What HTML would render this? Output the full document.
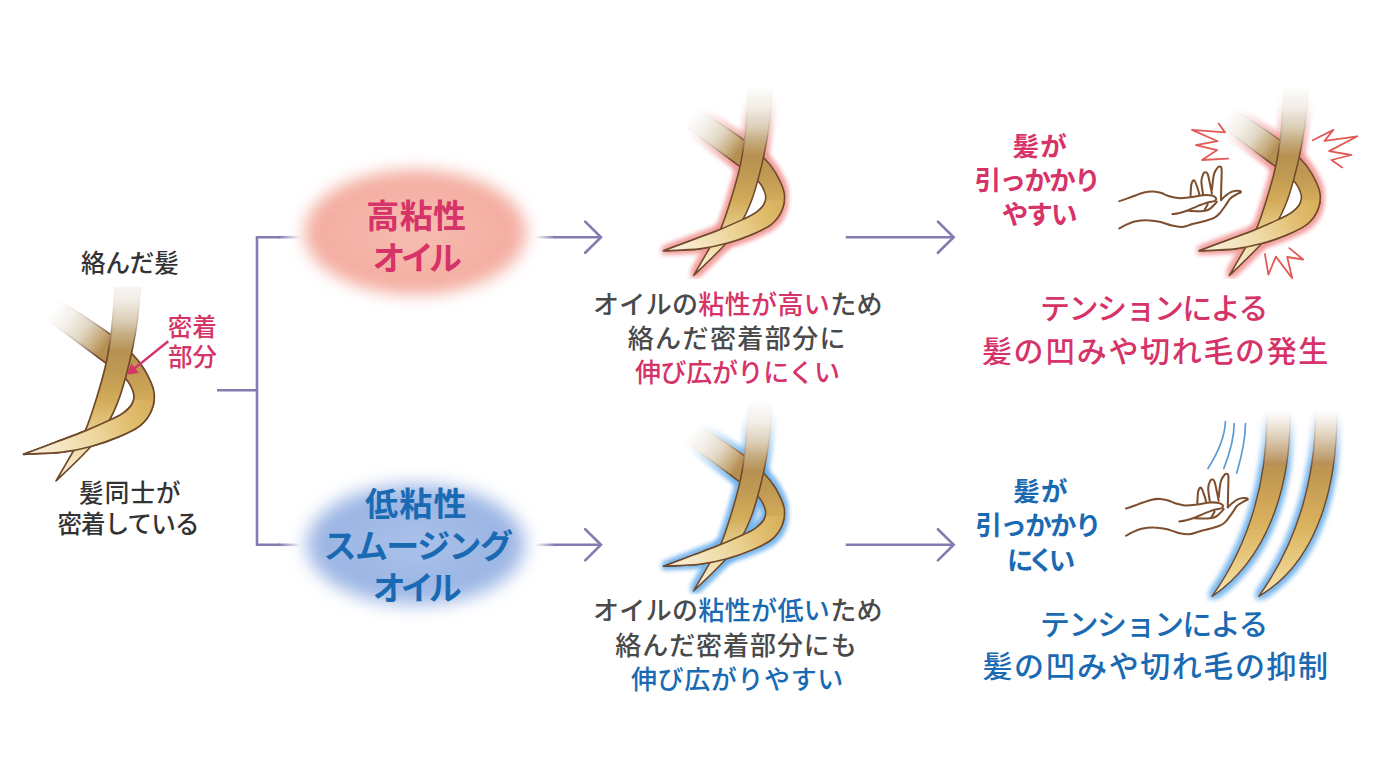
<!DOCTYPE html>
<html lang="ja"><head><meta charset="utf-8"><title>Hair oil viscosity diagram</title>
<style>
html,body{margin:0;padding:0;background:#fff}
#stage{position:relative;width:1380px;height:776px;overflow:hidden;background:#fff;font-family:"Liberation Sans",sans-serif}
#stage svg{position:absolute;left:0;top:0;display:block}
.t{position:absolute;color:transparent;white-space:nowrap;overflow:hidden;text-align:center;margin:0}
</style></head><body>
<div id="stage">
<svg width="1380" height="776" viewBox="0 0 1380 776" role="img" aria-label="Hair oil viscosity comparison diagram">
<defs>
<linearGradient id="hg" gradientUnits="userSpaceOnUse" x1="0" y1="286" x2="0" y2="481">
<stop offset="0" stop-color="#b79a72"/><stop offset="0.33" stop-color="#b89152"/><stop offset="0.44" stop-color="#bf9953"/><stop offset="0.585" stop-color="#d3ab59"/><stop offset="0.78" stop-color="#ecd08a"/><stop offset="1" stop-color="#f7e6bf"/>
</linearGradient>
<linearGradient id="hgA" gradientUnits="userSpaceOnUse" x1="0" y1="276" x2="0" y2="481">
<stop offset="0.000" stop-color="#fff"/><stop offset="0.117" stop-color="#f1ece4"/><stop offset="0.215" stop-color="#dccfb8"/><stop offset="0.288" stop-color="#c5ac80"/><stop offset="0.366" stop-color="#b89152"/><stop offset="0.468" stop-color="#bf9953"/><stop offset="0.605" stop-color="#d3ab59"/><stop offset="0.790" stop-color="#ecd598"/><stop offset="1.000" stop-color="#fbf3e2"/>
</linearGradient>
<linearGradient id="stA" gradientUnits="userSpaceOnUse" x1="0" y1="276" x2="0" y2="481">
<stop offset="0.000" stop-color="#fff"/><stop offset="0.117" stop-color="#efe9e1"/><stop offset="0.239" stop-color="#c4b3a0"/><stop offset="0.361" stop-color="#70492a"/><stop offset="1.000" stop-color="#70492a"/>
</linearGradient>
<linearGradient id="hgB" gradientUnits="userSpaceOnUse" x1="53" y1="309" x2="104" y2="347">
<stop offset="0" stop-color="#fff"/><stop offset="0.3" stop-color="#f4f0ea"/><stop offset="0.6" stop-color="#e1d6c2"/><stop offset="0.85" stop-color="#c8ad80"/><stop offset="1" stop-color="#b58f52"/>
</linearGradient>
<linearGradient id="stB" gradientUnits="userSpaceOnUse" x1="53" y1="309" x2="104" y2="347">
<stop offset="0" stop-color="#fff"/><stop offset="0.3" stop-color="#efe9e1"/><stop offset="0.65" stop-color="#c4b3a0"/><stop offset="1" stop-color="#70492a"/>
</linearGradient>
<clipPath id="clipBtop"><rect x="0" y="255" width="112" height="115"/></clipPath><clipPath id="clipBrest"><rect x="112" y="255" width="100" height="120"/><rect x="0" y="370" width="200" height="130"/></clipPath><clipPath id="clipLeft"><rect x="0" y="286.6" width="240" height="220"/></clipPath>
<linearGradient id="hgBt" gradientUnits="userSpaceOnUse" x1="152" y1="398" x2="25" y2="455">
<stop offset="0" stop-color="#d7af5c"/><stop offset="0.2" stop-color="#e0bc6c"/><stop offset="0.45" stop-color="#ecd498"/><stop offset="0.75" stop-color="#f5e6c4"/><stop offset="1" stop-color="#fbf3e4"/>
</linearGradient>
<linearGradient id="hg2" gradientUnits="userSpaceOnUse" x1="0" y1="412" x2="0" y2="597">
<stop offset="0" stop-color="#b79a72"/><stop offset="0.28" stop-color="#b1874c"/><stop offset="0.30" stop-color="#bd9450"/><stop offset="0.6" stop-color="#d9b15d"/><stop offset="0.85" stop-color="#ecd08a"/><stop offset="1" stop-color="#f7e6bf"/>
</linearGradient>
<linearGradient id="mAg" gradientUnits="userSpaceOnUse" x1="0" y1="284" x2="0" y2="352">
<stop offset="0" stop-color="#000"/><stop offset="0.12" stop-color="#101010"/><stop offset="1" stop-color="#fff"/>
</linearGradient>
<mask id="mA" maskUnits="userSpaceOnUse" x="0" y="255" width="200" height="230"><rect x="0" y="255" width="200" height="245" fill="url(#mAg)"/></mask>
<linearGradient id="mBg" gradientUnits="userSpaceOnUse" x1="57" y1="312" x2="106" y2="348.5">
<stop offset="0" stop-color="#000"/><stop offset="0.12" stop-color="#101010"/><stop offset="1" stop-color="#fff"/>
</linearGradient>
<mask id="mB" maskUnits="userSpaceOnUse" x="0" y="255" width="200" height="230"><rect x="0" y="255" width="200" height="245" fill="url(#mBg)"/></mask>
<clipPath id="clipBot"><rect x="0" y="400" width="200" height="100"/></clipPath>
<linearGradient id="fadeRg" gradientUnits="userSpaceOnUse" x1="0" y1="410" x2="0" y2="468">
<stop offset="0" stop-color="#000"/><stop offset="0.1" stop-color="#111"/><stop offset="1" stop-color="#fff"/>
</linearGradient>
<mask id="fadeR" maskUnits="userSpaceOnUse" x="1180" y="400" width="200" height="220"><rect x="1180" y="400" width="200" height="220" fill="url(#fadeRg)"/></mask>
<filter id="glowP" x="-30%" y="-30%" width="160%" height="160%" color-interpolation-filters="sRGB">
<feMorphology in="SourceAlpha" operator="dilate" radius="4.6" result="d"/><feGaussianBlur in="d" stdDeviation="2.3" result="b"/>
<feFlood flood-color="#f19796"/><feComposite in2="b" operator="in" result="c"/>
<feComponentTransfer in="c" result="c2"><feFuncA type="linear" slope="0.92"/></feComponentTransfer>
</filter>
<filter id="glowB" x="-30%" y="-30%" width="160%" height="160%" color-interpolation-filters="sRGB">
<feMorphology in="SourceAlpha" operator="dilate" radius="4.6" result="d"/><feGaussianBlur in="d" stdDeviation="2.3" result="b"/>
<feFlood flood-color="#6cb0ec"/><feComposite in2="b" operator="in" result="c"/>
<feComponentTransfer in="c" result="c2"><feFuncA type="linear" slope="0.92"/></feComponentTransfer>
</filter>
<filter id="glowB2" x="-30%" y="-30%" width="160%" height="160%" color-interpolation-filters="sRGB">
<feMorphology in="SourceAlpha" operator="dilate" radius="3.8" result="d"/><feGaussianBlur in="d" stdDeviation="2.4" result="b"/>
<feFlood flood-color="#6cb0ec"/><feComposite in2="b" operator="in" result="c"/>
<feComponentTransfer in="c" result="c2"><feFuncA type="linear" slope="0.92"/></feComponentTransfer>
</filter>
<filter id="blurE2" x="-30%" y="-30%" width="160%" height="160%"><feGaussianBlur stdDeviation="9"/></filter>
<filter id="blurE" x="-30%" y="-30%" width="160%" height="160%"><feGaussianBlur stdDeviation="8.2"/></filter>
<radialGradient id="rgP"><stop offset="0" stop-color="#f6beb2"/><stop offset="0.75" stop-color="#f4afa3"/><stop offset="1" stop-color="#f4afa3"/></radialGradient>
<radialGradient id="rgB"><stop offset="0" stop-color="#abc2ea"/><stop offset="0.75" stop-color="#9cb6e4"/><stop offset="1" stop-color="#9cb6e4"/></radialGradient>
<linearGradient id="lfR" x1="0" x2="1" y1="0" y2="0"><stop offset="0" stop-color="#857bb0" stop-opacity="0"/><stop offset="1" stop-color="#857bb0"/></linearGradient>
<linearGradient id="lfL" x1="0" x2="1" y1="0" y2="0"><stop offset="0" stop-color="#857bb0"/><stop offset="1" stop-color="#857bb0" stop-opacity="0"/></linearGradient>
<g id="hair" stroke-width="1.7" stroke-linejoin="round"><path d="M55.5 297.4C57.1 298.5 56.2 297.9 65.4 304.1C74.6 310.3 99.6 326.3 110.7 334.6C121.8 342.9 126.3 347.8 132.0 353.7C137.7 359.6 141.0 363.7 144.7 370.0C148.3 376.3 152.7 384.7 153.9 391.3C155.1 397.9 154.0 404.0 151.8 409.7C149.6 415.4 145.9 420.8 140.5 425.3C135.1 429.8 127.5 433.1 119.2 436.6C110.9 440.1 100.4 443.9 90.9 446.5C81.5 449.1 73.7 450.9 62.5 452.2C51.3 453.5 30.0 453.9 23.5 454.3C28.8 452.3 45.1 446.2 55.4 442.3C65.7 438.4 76.2 434.6 85.2 430.9C94.2 427.2 103.2 423.1 109.3 420.3C115.4 417.5 118.2 416.6 122.0 413.9C125.8 411.2 130.1 407.5 132.0 404.0C133.9 400.5 134.6 397.1 133.4 392.7C132.2 388.3 129.4 382.6 124.9 377.8C120.4 373.0 118.8 372.8 106.5 363.6C94.2 354.4 62.1 330.5 51.2 322.5C40.3 314.5 42.9 316.9 41.3 315.8Z" fill="url(#hg)" stroke="#70492a" clip-path="url(#clipBrest)"/><path d="M55.5 297.4C57.1 298.5 56.2 297.9 65.4 304.1C74.6 310.3 99.6 326.3 110.7 334.6C121.8 342.9 126.3 347.8 132.0 353.7C137.7 359.6 141.0 363.7 144.7 370.0C148.3 376.3 152.7 384.7 153.9 391.3C155.1 397.9 154.0 404.0 151.8 409.7C149.6 415.4 145.9 420.8 140.5 425.3C135.1 429.8 127.5 433.1 119.2 436.6C110.9 440.1 100.4 443.9 90.9 446.5C81.5 449.1 73.7 450.9 62.5 452.2C51.3 453.5 30.0 453.9 23.5 454.3C28.8 452.3 45.1 446.2 55.4 442.3C65.7 438.4 76.2 434.6 85.2 430.9C94.2 427.2 103.2 423.1 109.3 420.3C115.4 417.5 118.2 416.6 122.0 413.9C125.8 411.2 130.1 407.5 132.0 404.0C133.9 400.5 134.6 397.1 133.4 392.7C132.2 388.3 129.4 382.6 124.9 377.8C120.4 373.0 118.8 372.8 106.5 363.6C94.2 354.4 62.1 330.5 51.2 322.5C40.3 314.5 42.9 316.9 41.3 315.8Z" fill="url(#hgB)" stroke="url(#stB)" clip-path="url(#clipBtop)"/><path d="M115.6 272.0C115.5 274.4 115.3 280.1 115.0 286.4C114.7 292.7 114.2 301.6 113.5 310.0C112.8 318.4 112.0 327.5 110.7 336.7C109.4 345.9 108.1 354.7 105.7 365.0C103.3 375.3 99.9 387.3 96.5 398.3C93.1 409.3 89.1 422.0 85.2 430.9C81.3 439.8 78.0 443.1 73.1 451.5C68.2 459.9 58.9 476.1 56.0 481.0C61.7 475.4 81.3 457.3 90.2 447.2C99.1 437.1 104.5 428.4 109.3 420.3C114.1 412.2 116.2 406.3 119.2 398.3C122.2 390.3 124.9 380.0 127.0 372.1C129.1 364.2 130.3 359.2 132.0 350.9C133.7 342.6 135.6 333.0 137.0 322.5C138.4 312.0 139.8 296.2 140.5 287.8C141.2 279.4 141.1 274.6 141.2 272.0Z" fill="url(#hgA)" stroke="url(#stA)"/><path d="M55.5 297.4C57.1 298.5 56.2 297.9 65.4 304.1C74.6 310.3 99.6 326.3 110.7 334.6C121.8 342.9 126.3 347.8 132.0 353.7C137.7 359.6 141.0 363.7 144.7 370.0C148.3 376.3 152.7 384.7 153.9 391.3C155.1 397.9 154.0 404.0 151.8 409.7C149.6 415.4 145.9 420.8 140.5 425.3C135.1 429.8 127.5 433.1 119.2 436.6C110.9 440.1 100.4 443.9 90.9 446.5C81.5 449.1 73.7 450.9 62.5 452.2C51.3 453.5 30.0 453.9 23.5 454.3C28.8 452.3 45.1 446.2 55.4 442.3C65.7 438.4 76.2 434.6 85.2 430.9C94.2 427.2 103.2 423.1 109.3 420.3C115.4 417.5 118.2 416.6 122.0 413.9C125.8 411.2 130.1 407.5 132.0 404.0C133.9 400.5 134.6 397.1 133.4 392.7C132.2 388.3 129.4 382.6 124.9 377.8C120.4 373.0 118.8 372.8 106.5 363.6C94.2 354.4 62.1 330.5 51.2 322.5C40.3 314.5 42.9 316.9 41.3 315.8Z" fill="url(#hgBt)" stroke="#70492a" clip-path="url(#clipBot)"/></g><g id="hairA"><path d="M115.6 272.0C115.5 274.4 115.3 280.1 115.0 286.4C114.7 292.7 114.2 301.6 113.5 310.0C112.8 318.4 112.0 327.5 110.7 336.7C109.4 345.9 108.1 354.7 105.7 365.0C103.3 375.3 99.9 387.3 96.5 398.3C93.1 409.3 89.1 422.0 85.2 430.9C81.3 439.8 78.0 443.1 73.1 451.5C68.2 459.9 58.9 476.1 56.0 481.0C61.7 475.4 81.3 457.3 90.2 447.2C99.1 437.1 104.5 428.4 109.3 420.3C114.1 412.2 116.2 406.3 119.2 398.3C122.2 390.3 124.9 380.0 127.0 372.1C129.1 364.2 130.3 359.2 132.0 350.9C133.7 342.6 135.6 333.0 137.0 322.5C138.4 312.0 139.8 296.2 140.5 287.8C141.2 279.4 141.1 274.6 141.2 272.0Z"/></g><g id="hairB"><path d="M55.5 297.4C57.1 298.5 56.2 297.9 65.4 304.1C74.6 310.3 99.6 326.3 110.7 334.6C121.8 342.9 126.3 347.8 132.0 353.7C137.7 359.6 141.0 363.7 144.7 370.0C148.3 376.3 152.7 384.7 153.9 391.3C155.1 397.9 154.0 404.0 151.8 409.7C149.6 415.4 145.9 420.8 140.5 425.3C135.1 429.8 127.5 433.1 119.2 436.6C110.9 440.1 100.4 443.9 90.9 446.5C81.5 449.1 73.7 450.9 62.5 452.2C51.3 453.5 30.0 453.9 23.5 454.3C28.8 452.3 45.1 446.2 55.4 442.3C65.7 438.4 76.2 434.6 85.2 430.9C94.2 427.2 103.2 423.1 109.3 420.3C115.4 417.5 118.2 416.6 122.0 413.9C125.8 411.2 130.1 407.5 132.0 404.0C133.9 400.5 134.6 397.1 133.4 392.7C132.2 388.3 129.4 382.6 124.9 377.8C120.4 373.0 118.8 372.8 106.5 363.6C94.2 354.4 62.1 330.5 51.2 322.5C40.3 314.5 42.9 316.9 41.3 315.8Z"/></g></defs>
<g fill="none" stroke="#857bb0" stroke-width="2.6">
<path d="M217 390.3H257"/>
<path d="M280 237.2H257V544.8H280"/>
</g>
<rect x="279" y="235.9" width="22" height="2.6" fill="url(#lfL)"/>
<rect x="279" y="543.5" width="22" height="2.6" fill="url(#lfL)"/>
<rect x="535.0" y="235.90" width="20" height="2.6" fill="url(#lfR)"/><path d="M554.5 237.2H600.6" fill="none" stroke="#857bb0" stroke-width="2.6"/><path d="M585.2 221.6L601.0 237.2L585.2 252.8" fill="none" stroke="#857bb0" stroke-width="2.6" stroke-linecap="round" stroke-linejoin="miter"/>
<rect x="535.0" y="543.50" width="20" height="2.6" fill="url(#lfR)"/><path d="M554.5 544.8H600.6" fill="none" stroke="#857bb0" stroke-width="2.6"/><path d="M585.2 529.2L601.0 544.8L585.2 560.4" fill="none" stroke="#857bb0" stroke-width="2.6" stroke-linecap="round" stroke-linejoin="miter"/>
<path d="M845.7 237.2H953.3" fill="none" stroke="#857bb0" stroke-width="2.6"/><path d="M937.9 221.6L953.7 237.2L937.9 252.8" fill="none" stroke="#857bb0" stroke-width="2.6" stroke-linecap="round" stroke-linejoin="miter"/>
<path d="M845.7 544.8H953.3" fill="none" stroke="#857bb0" stroke-width="2.6"/><path d="M937.9 529.2L953.7 544.8L937.9 560.4" fill="none" stroke="#857bb0" stroke-width="2.6" stroke-linecap="round" stroke-linejoin="miter"/>
<ellipse cx="415.3" cy="232.3" rx="111" ry="62.5" fill="url(#rgP)" filter="url(#blurE)"/>
<ellipse cx="415.8" cy="544.5" rx="109" ry="60" fill="url(#rgB)" filter="url(#blurE2)"/>
<g clip-path="url(#clipLeft)"><g transform="translate(0.0 0.0) scale(1.0000)"><use href="#hair"/></g></g>
<g transform="translate(641.8 -169.4) scale(0.9250)"><g mask="url(#mB)"><use href="#hairB" filter="url(#glowP)"/></g><g mask="url(#mA)"><use href="#hairA" filter="url(#glowP)"/></g><path d="M124.9 377.8C126.3 380.3 132.2 388.3 133.4 392.7C134.6 397.1 133.9 400.5 132.0 404.0C130.1 407.5 125.8 411.2 122.0 413.9C118.2 416.6 111.4 419.2 109.3 420.3L119.2 398.3Z" fill="#fff" fill-opacity="1.00"/><use href="#hair"/></g>
<g transform="translate(641.8 146.0) scale(0.9250)"><g mask="url(#mB)"><use href="#hairB" filter="url(#glowB)"/></g><g mask="url(#mA)"><use href="#hairA" filter="url(#glowB)"/></g><path d="M124.9 377.8C126.3 380.3 132.2 388.3 133.4 392.7C134.6 397.1 133.9 400.5 132.0 404.0C130.1 407.5 125.8 411.2 122.0 413.9C118.2 416.6 111.4 419.2 109.3 420.3L119.2 398.3Z" fill="#fff" fill-opacity="0.00"/><use href="#hair"/></g>
<g transform="translate(1177.5 -169.4) scale(0.9250)"><g mask="url(#mB)"><use href="#hairB" filter="url(#glowP)"/></g><g mask="url(#mA)"><use href="#hairA" filter="url(#glowP)"/></g><path d="M124.9 377.8C126.3 380.3 132.2 388.3 133.4 392.7C134.6 397.1 133.9 400.5 132.0 404.0C130.1 407.5 125.8 411.2 122.0 413.9C118.2 416.6 111.4 419.2 109.3 420.3L119.2 398.3Z" fill="#fff" fill-opacity="1.00"/><use href="#hair"/></g>
<g mask="url(#fadeR)"><g filter="url(#glowB2)"><path d="M1266.6 404.0L1266.6 412.0C1267.9 477.8 1250.4 542.5 1212.0 596.4C1271.3 556.2 1291.1 479.8 1290.0 412.0L1290.0 404.0Z"/><path d="M1315.5 404.0L1315.5 412.0C1315.7 478.2 1297.4 542.3 1258.8 596.4C1321.1 559.7 1337.3 478.7 1336.8 412.0L1336.8 404.0Z"/></g><g stroke="#70492a" stroke-width="1.4" stroke-linejoin="round" fill="url(#hg2)"><path d="M1266.6 404.0L1266.6 412.0C1267.9 477.8 1250.4 542.5 1212.0 596.4C1271.3 556.2 1291.1 479.8 1290.0 412.0L1290.0 404.0Z"/><path d="M1315.5 404.0L1315.5 412.0C1315.7 478.2 1297.4 542.3 1258.8 596.4C1321.1 559.7 1337.3 478.7 1336.8 412.0L1336.8 404.0Z"/></g></g>
<path d="M168.3 341.2L133 369.6" stroke="#d63368" stroke-width="2.5" fill="none"/>
<path d="M127 374.4L131.3 363.6L138.9 373Z" fill="#d63368"/>
<g fill="none" stroke="#7e4f2f" stroke-width="2.05" stroke-linecap="round" stroke-linejoin="round"><path d="M1119.3 201.2C1121.2 200.5 1126.5 198.7 1130.6 197.3C1134.7 195.9 1140.2 193.6 1144.0 192.6C1147.8 191.6 1150.4 191.5 1153.3 191.6C1156.2 191.7 1159.1 192.4 1161.5 193.1C1163.9 193.8 1165.0 194.9 1167.7 195.7C1170.5 196.5 1174.3 197.8 1178.0 198.1C1181.7 198.4 1185.8 197.8 1190.1 197.3C1194.3 196.8 1199.9 195.5 1203.5 195.2C1207.1 194.9 1209.9 195.2 1211.9 195.6C1213.9 196.0 1215.0 197.1 1215.7 197.7C1216.4 198.3 1216.3 198.8 1216.1 199.4C1215.9 200.0 1215.9 200.6 1214.4 201.1C1212.9 201.6 1209.7 201.9 1206.9 202.7C1204.1 203.5 1201.1 204.8 1197.7 206.1C1194.3 207.4 1190.0 209.5 1186.8 210.7C1183.6 211.9 1180.8 212.6 1178.4 213.2C1176.0 213.8 1173.5 213.9 1172.5 214.1M1119.3 228.4C1120.5 227.8 1123.9 225.8 1126.5 224.6C1129.1 223.4 1131.3 222.2 1134.7 221.5C1138.1 220.8 1143.0 220.1 1147.1 220.2C1151.2 220.2 1155.4 220.9 1159.5 221.8C1163.6 222.7 1168.1 224.7 1171.9 225.6C1175.7 226.5 1178.8 227.2 1182.2 227.0C1185.6 226.8 1188.7 225.1 1192.5 224.1C1196.3 223.1 1201.2 222.0 1204.8 221.0C1208.4 220.0 1211.7 219.1 1214.1 217.9C1216.5 216.7 1217.4 215.9 1219.3 213.8C1221.2 211.7 1223.6 208.1 1225.5 205.5C1227.4 202.9 1228.5 200.3 1230.6 198.3C1232.6 196.3 1236.1 194.7 1237.8 193.7C1239.5 192.7 1240.4 192.8 1240.8 192.3C1241.2 191.9 1240.8 191.2 1240.0 191.0C1239.2 190.8 1237.8 190.6 1236.2 190.8C1234.6 191.0 1232.2 191.4 1230.4 192.3C1228.6 193.2 1226.9 194.7 1225.3 196.0C1223.7 197.3 1221.7 199.5 1221.0 200.2M1190.5 196.0C1190.7 194.1 1190.8 186.9 1191.4 184.3C1192.0 181.7 1193.2 179.8 1194.3 180.5C1195.3 181.2 1196.9 186.2 1197.7 188.5C1198.5 190.8 1199.0 193.4 1199.3 194.4M1203.1 194.4C1202.8 192.2 1201.3 184.5 1201.4 181.0C1201.5 177.5 1202.8 174.9 1203.5 173.4C1204.2 171.9 1204.9 172.1 1205.6 172.2C1206.3 172.3 1206.9 172.0 1207.7 174.2C1208.5 176.3 1209.5 181.9 1210.2 185.1C1210.9 188.3 1211.6 192.1 1211.9 193.5M1211.9 190.0C1212.2 187.4 1213.0 177.9 1214.0 174.2C1215.0 170.4 1216.8 168.8 1217.8 167.5C1218.8 166.2 1219.7 166.4 1220.3 166.7C1220.9 167.0 1221.4 166.1 1221.6 169.2C1221.8 172.3 1221.4 179.9 1221.3 185.1C1221.2 190.3 1221.0 197.7 1221.0 200.2M1216.9 201.9C1215.8 203.0 1212.2 207.1 1210.2 208.6C1208.2 210.1 1207.7 210.2 1205.2 210.7C1202.7 211.1 1198.2 211.3 1195.1 211.3C1192.0 211.3 1188.2 210.8 1186.8 210.7M1207.7 204.4C1207.2 205.4 1205.0 209.3 1204.4 210.3"/><path d="M1119.3 201.2C1121.2 200.5 1126.5 198.7 1130.6 197.3C1134.7 195.9 1140.2 193.6 1144.0 192.6C1147.8 191.6 1150.4 191.5 1153.3 191.6C1156.2 191.7 1159.1 192.4 1161.5 193.1C1163.9 193.8 1165.0 194.9 1167.7 195.7C1170.5 196.5 1174.3 197.8 1178.0 198.1C1181.7 198.4 1185.8 197.8 1190.1 197.3C1194.3 196.8 1199.9 195.5 1203.5 195.2C1207.1 194.9 1209.9 195.2 1211.9 195.6C1213.9 196.0 1215.0 197.1 1215.7 197.7C1216.4 198.3 1216.3 198.8 1216.1 199.4C1215.9 200.0 1215.9 200.6 1214.4 201.1C1212.9 201.6 1209.7 201.9 1206.9 202.7C1204.1 203.5 1201.1 204.8 1197.7 206.1C1194.3 207.4 1190.0 209.5 1186.8 210.7C1183.6 211.9 1180.8 212.6 1178.4 213.2C1176.0 213.8 1173.5 213.9 1172.5 214.1M1119.3 228.4C1120.5 227.8 1123.9 225.8 1126.5 224.6C1129.1 223.4 1131.3 222.2 1134.7 221.5C1138.1 220.8 1143.0 220.1 1147.1 220.2C1151.2 220.2 1155.4 220.9 1159.5 221.8C1163.6 222.7 1168.1 224.7 1171.9 225.6C1175.7 226.5 1178.8 227.2 1182.2 227.0C1185.6 226.8 1188.7 225.1 1192.5 224.1C1196.3 223.1 1201.2 222.0 1204.8 221.0C1208.4 220.0 1211.7 219.1 1214.1 217.9C1216.5 216.7 1217.4 215.9 1219.3 213.8C1221.2 211.7 1223.6 208.1 1225.5 205.5C1227.4 202.9 1228.5 200.3 1230.6 198.3C1232.6 196.3 1236.1 194.7 1237.8 193.7C1239.5 192.7 1240.4 192.8 1240.8 192.3C1241.2 191.9 1240.8 191.2 1240.0 191.0C1239.2 190.8 1237.8 190.6 1236.2 190.8C1234.6 191.0 1232.2 191.4 1230.4 192.3C1228.6 193.2 1226.9 194.7 1225.3 196.0C1223.7 197.3 1221.7 199.5 1221.0 200.2M1190.5 196.0C1190.7 194.1 1190.8 186.9 1191.4 184.3C1192.0 181.7 1193.2 179.8 1194.3 180.5C1195.3 181.2 1196.9 186.2 1197.7 188.5C1198.5 190.8 1199.0 193.4 1199.3 194.4M1203.1 194.4C1202.8 192.2 1201.3 184.5 1201.4 181.0C1201.5 177.5 1202.8 174.9 1203.5 173.4C1204.2 171.9 1204.9 172.1 1205.6 172.2C1206.3 172.3 1206.9 172.0 1207.7 174.2C1208.5 176.3 1209.5 181.9 1210.2 185.1C1210.9 188.3 1211.6 192.1 1211.9 193.5M1211.9 190.0C1212.2 187.4 1213.0 177.9 1214.0 174.2C1215.0 170.4 1216.8 168.8 1217.8 167.5C1218.8 166.2 1219.7 166.4 1220.3 166.7C1220.9 167.0 1221.4 166.1 1221.6 169.2C1221.8 172.3 1221.4 179.9 1221.3 185.1C1221.2 190.3 1221.0 197.7 1221.0 200.2M1216.9 201.9C1215.8 203.0 1212.2 207.1 1210.2 208.6C1208.2 210.1 1207.7 210.2 1205.2 210.7C1202.7 211.1 1198.2 211.3 1195.1 211.3C1192.0 211.3 1188.2 210.8 1186.8 210.7M1207.7 204.4C1207.2 205.4 1205.0 209.3 1204.4 210.3" transform="translate(6.8 307.3)"/></g>
<path d="M1218.6 123.5L1225.0 132.4L1192.0 129.9L1217.6 141.2L1195.9 145.1L1217.2 150.1L1202.0 160.0L1228.2 158.6M1312.8 140.2L1333.3 129.9L1324.5 140.9L1357.4 136.3L1329.1 151.1L1351.4 155.0L1331.5 160.0L1342.2 167.4M1264.9 254.1L1268.4 274.7L1275.9 256.6L1292.2 278.2L1287.2 257.0L1303.2 259.5L1289.3 248.1" fill="none" stroke="#e25a56" stroke-width="1.8" stroke-linejoin="round" stroke-linecap="round"/>
<path d="M1225.4 421.7 Q1224.7 441.7 1208.0 468.5M1234.2 423.5 Q1234.0 442.6 1223.8 468.6M1245.5 423.5 Q1245.3 443.9 1236.7 473.1" fill="none" stroke="#5b9ad4" stroke-width="1.7" stroke-linecap="round"/>
<g font-family="&quot;Liberation Sans&quot;, &quot;Noto Sans CJK JP&quot;, sans-serif" text-anchor="middle">
<text x="129.9" y="272.49" font-size="24.5" font-weight="500" fill="#333333" textLength="97.8" lengthAdjust="spacing">絡んだ髪</text>
<text x="192.25" y="335.6" font-size="24.5" font-weight="500" fill="#d63368">密着</text>
<text x="192.6" y="366.08" font-size="24.5" font-weight="500" fill="#d63368">部分</text>
<text x="129.85" y="502.41" font-size="24.5" font-weight="500" fill="#333333" textLength="101.5" lengthAdjust="spacing">髪同士が</text>
<text x="128.4" y="533.35" font-size="24.5" font-weight="500" fill="#333333" textLength="142" lengthAdjust="spacing">密着している</text>
<text x="416.15" y="228.29" font-size="33" font-weight="700" fill="#d63368" textLength="99.9" lengthAdjust="spacing">高粘性</text>
<text x="417.25" y="270.11" font-size="33" font-weight="700" fill="#d63368" textLength="89.3" lengthAdjust="spacing">オイル</text>
<text x="415.85" y="515.89" font-size="33" font-weight="700" fill="#1a6ab3" textLength="101.5" lengthAdjust="spacing">低粘性</text>
<text x="418.25" y="558.15" font-size="33" font-weight="700" fill="#1a6ab3" textLength="189.5" lengthAdjust="spacing">スムージング</text>
<text x="417.25" y="599.51" font-size="33" font-weight="700" fill="#1a6ab3" textLength="88.9" lengthAdjust="spacing">オイル</text>
<text x="737.75" y="313.56" font-size="26" font-weight="500" fill="#4a4a4a" textLength="289.7" lengthAdjust="spacing">オイルの<tspan fill="#d63368">粘性が高い</tspan>ため</text>
<text x="736.65" y="347.7" font-size="26" font-weight="500" fill="#4a4a4a" textLength="217.9" lengthAdjust="spacing">絡んだ密着部分に</text>
<text x="737.45" y="382.08" font-size="26" font-weight="500" fill="#d63368" textLength="205.1" lengthAdjust="spacing">伸び広がりにくい</text>
<text x="737.75" y="620.27" font-size="26" font-weight="500" fill="#4a4a4a" textLength="289.7" lengthAdjust="spacing">オイルの<tspan fill="#1a6ab3">粘性が低い</tspan>ため</text>
<text x="736.05" y="654.65" font-size="26" font-weight="500" fill="#4a4a4a" textLength="241.5" lengthAdjust="spacing">絡んだ密着部分にも</text>
<text x="737.15" y="688.73" font-size="26" font-weight="500" fill="#1a6ab3" textLength="212.3" lengthAdjust="spacing">伸び広がりやすい</text>
<text x="1039.65" y="155.68" font-size="26.5" font-weight="700" fill="#d63368" textLength="54.1" lengthAdjust="spacing">髪が</text>
<text x="1037.7" y="189.61" font-size="26.5" font-weight="700" fill="#d63368" textLength="126" lengthAdjust="spacing">引っかかり</text>
<text x="1039.6" y="224.32" font-size="26.5" font-weight="700" fill="#d63368" textLength="75.8" lengthAdjust="spacing">やすい</text>
<text x="1040.35" y="501.43" font-size="26.5" font-weight="700" fill="#1a6ab3" textLength="54.1" lengthAdjust="spacing">髪が</text>
<text x="1038.45" y="535.36" font-size="26.5" font-weight="700" fill="#1a6ab3" textLength="125.9" lengthAdjust="spacing">引っかかり</text>
<text x="1041.15" y="569.87" font-size="26.5" font-weight="700" fill="#1a6ab3" textLength="68.1" lengthAdjust="spacing">にくい</text>
<text x="1154.2" y="318.63" font-size="30" font-weight="500" fill="#d63368" textLength="228.4" lengthAdjust="spacing">テンションによる</text>
<text x="1155.1" y="361.87" font-size="30" font-weight="500" fill="#d63368" textLength="346.4" lengthAdjust="spacing">髪の凹みや切れ毛の発生</text>
<text x="1154.2" y="634.58" font-size="30" font-weight="500" fill="#1a6ab3" textLength="228.4" lengthAdjust="spacing">テンションによる</text>
<text x="1155.2" y="677.25" font-size="30" font-weight="500" fill="#1a6ab3" textLength="345.6" lengthAdjust="spacing">髪の凹みや切れ毛の抑制</text>
</g>
</svg>
<div class="t" style="left:81.0px;top:249.9px;width:97.8px;height:26.6px;font-size:24.5px;line-height:26.6px">絡んだ髪</div>
<div class="t" style="left:167.8px;top:312.8px;width:48.9px;height:26.8px;font-size:24.5px;line-height:26.8px"><span class="hp">密着</span></div>
<div class="t" style="left:168.1px;top:343.5px;width:49.0px;height:26.8px;font-size:24.5px;line-height:26.8px"><span class="hp">部分</span></div>
<div class="t" style="left:79.1px;top:479.7px;width:101.5px;height:26.7px;font-size:24.5px;line-height:26.7px">髪同士が</div>
<div class="t" style="left:57.4px;top:510.7px;width:142.0px;height:26.6px;font-size:24.5px;line-height:26.6px">密着している</div>
<div class="t" style="left:366.2px;top:198.4px;width:99.9px;height:34.7px;font-size:33.0px;line-height:34.7px"><span class="hp">高粘性</span></div>
<div class="t" style="left:372.6px;top:241.9px;width:89.3px;height:31.5px;font-size:33.0px;line-height:31.5px"><span class="hp">オイル</span></div>
<div class="t" style="left:365.1px;top:486.0px;width:101.5px;height:34.6px;font-size:33.0px;line-height:34.6px"><span class="hb">低粘性</span></div>
<div class="t" style="left:323.5px;top:528.1px;width:189.5px;height:34.7px;font-size:33.0px;line-height:34.7px"><span class="hb">スムージング</span></div>
<div class="t" style="left:372.8px;top:571.3px;width:88.9px;height:31.5px;font-size:33.0px;line-height:31.5px"><span class="hb">オイル</span></div>
<div class="t" style="left:592.9px;top:289.3px;width:289.7px;height:28.4px;font-size:26.0px;line-height:28.4px">オイルの<span class="hp">粘性が高い</span>ため</div>
<div class="t" style="left:627.7px;top:323.8px;width:217.9px;height:28.1px;font-size:26.0px;line-height:28.1px">絡んだ密着部分に</div>
<div class="t" style="left:634.9px;top:357.9px;width:205.1px;height:28.5px;font-size:26.0px;line-height:28.5px"><span class="hp">伸び広がりにくい</span></div>
<div class="t" style="left:592.9px;top:596.0px;width:289.7px;height:28.4px;font-size:26.0px;line-height:28.4px">オイルの<span class="hb">粘性が低い</span>ため</div>
<div class="t" style="left:615.3px;top:630.7px;width:241.5px;height:28.1px;font-size:26.0px;line-height:28.1px">絡んだ密着部分にも</div>
<div class="t" style="left:631.0px;top:664.5px;width:212.3px;height:28.5px;font-size:26.0px;line-height:28.5px"><span class="hb">伸び広がりやすい</span></div>
<div class="t" style="left:1012.6px;top:131.0px;width:54.1px;height:29.0px;font-size:26.5px;line-height:29.0px"><span class="hp">髪が</span></div>
<div class="t" style="left:974.7px;top:165.6px;width:126.0px;height:28.3px;font-size:26.5px;line-height:28.3px"><span class="hp">引っかかり</span></div>
<div class="t" style="left:1001.7px;top:200.6px;width:75.8px;height:27.4px;font-size:26.5px;line-height:27.4px"><span class="hp">やすい</span></div>
<div class="t" style="left:1013.3px;top:476.8px;width:54.1px;height:29.0px;font-size:26.5px;line-height:29.0px"><span class="hb">髪が</span></div>
<div class="t" style="left:975.5px;top:511.3px;width:125.9px;height:28.3px;font-size:26.5px;line-height:28.3px"><span class="hb">引っかかり</span></div>
<div class="t" style="left:1007.1px;top:546.3px;width:68.1px;height:27.5px;font-size:26.5px;line-height:27.5px"><span class="hb">にくい</span></div>
<div class="t" style="left:1040.0px;top:293.1px;width:228.4px;height:29.2px;font-size:30.0px;line-height:29.2px"><span class="hp">テンションによる</span></div>
<div class="t" style="left:981.9px;top:334.7px;width:346.4px;height:31.8px;font-size:30.0px;line-height:31.8px"><span class="hp">髪の凹みや切れ毛の発生</span></div>
<div class="t" style="left:1040.0px;top:609.0px;width:228.4px;height:29.2px;font-size:30.0px;line-height:29.2px"><span class="hb">テンションによる</span></div>
<div class="t" style="left:982.4px;top:650.0px;width:345.6px;height:31.8px;font-size:30.0px;line-height:31.8px"><span class="hb">髪の凹みや切れ毛の抑制</span></div>
</div>
</body></html>
